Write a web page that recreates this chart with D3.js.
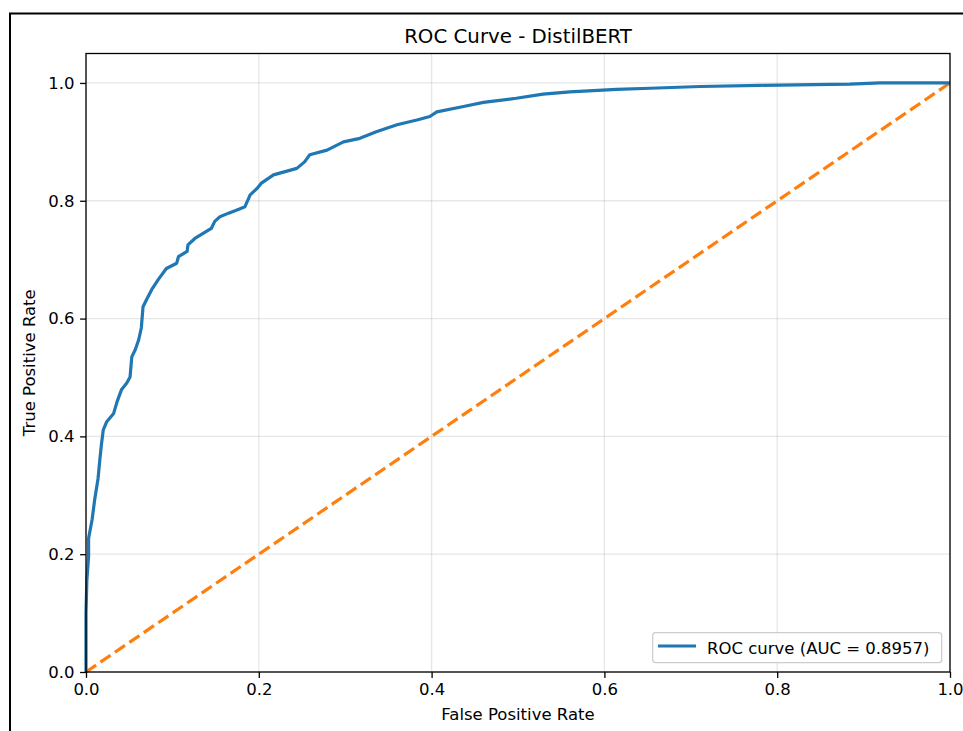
<!DOCTYPE html>
<html>
<head>
<meta charset="utf-8">
<script src="https://cdn.jsdelivr.net/npm/d3@7/dist/d3.min.js"></script>
<style>
  html, body { margin: 0; padding: 0; background: #fff; }
  svg { display: block; }
  text { font-family: "DejaVu Sans", sans-serif; fill: #000; }
</style>
</head>
<body>
<svg id="chart" width="963" height="731"></svg>
<script>
// ROC curve points (False Positive Rate, True Positive Rate)
const fpr = [0, 0, 0.001, 0.003, 0.003, 0.007, 0.010, 0.014, 0.016, 0.018, 0.020, 0.024, 0.032, 0.036, 0.041, 0.047, 0.051, 0.053, 0.057, 0.061, 0.064, 0.066, 0.070, 0.076, 0.084, 0.093, 0.105, 0.107, 0.117, 0.118, 0.126, 0.136, 0.145, 0.149, 0.155, 0.165, 0.174, 0.184, 0.190, 0.198, 0.203, 0.217, 0.244, 0.253, 0.259, 0.279, 0.298, 0.317, 0.336, 0.360, 0.383, 0.398, 0.406, 0.437, 0.460, 0.498, 0.529, 0.560, 0.614, 0.653, 0.711, 0.780, 0.884, 0.919, 1.0];
const tpr = [0, 0.100, 0.156, 0.196, 0.227, 0.258, 0.292, 0.329, 0.360, 0.388, 0.411, 0.425, 0.439, 0.459, 0.479, 0.490, 0.501, 0.535, 0.547, 0.564, 0.584, 0.620, 0.632, 0.649, 0.667, 0.685, 0.694, 0.705, 0.714, 0.725, 0.736, 0.745, 0.753, 0.765, 0.773, 0.779, 0.784, 0.790, 0.810, 0.821, 0.830, 0.844, 0.855, 0.866, 0.878, 0.886, 0.900, 0.906, 0.917, 0.929, 0.937, 0.943, 0.951, 0.960, 0.967, 0.974, 0.981, 0.985, 0.989, 0.991, 0.994, 0.996, 0.998, 1.0, 1.0];
const chanceX = [0, 1];
const chanceY = [0, 1];
const xTicks = [0.0, 0.2, 0.4, 0.6, 0.8, 1.0];
const yTicks = [0.0, 0.2, 0.4, 0.6, 0.8, 1.0];
const aucLabel = "ROC curve (AUC = 0.8957)";
const titleText = "ROC Curve - DistilBERT";
const xLabel = "False Positive Rate";
const yLabel = "True Positive Rate";

const svg = d3.select("#chart");

// outer frame
svg.append("rect")
  .attr("x", 10).attr("y", 13.5).attr("width", 1000).attr("height", 800)
  .attr("fill", "none").attr("stroke", "#000").attr("stroke-width", 2);

const L = 86, R = 950, T = 53.5, B = 672;
const x = d3.scaleLinear().domain([0, 1]).range([L, R]);
const y = d3.scaleLinear().domain([0, 1.05]).range([B, T]);

// grid
const g = svg.append("g");
g.selectAll(".gx").data(xTicks).join("line")
  .attr("x1", d => x(d)).attr("x2", d => x(d)).attr("y1", T).attr("y2", B)
  .attr("stroke", "#b0b0b0").attr("stroke-opacity", 0.3).attr("stroke-width", 1.3);
g.selectAll(".gy").data(yTicks).join("line")
  .attr("y1", d => y(d)).attr("y2", d => y(d)).attr("x1", L).attr("x2", R)
  .attr("stroke", "#b0b0b0").attr("stroke-opacity", 0.3).attr("stroke-width", 1.3);

const line = d3.line().x(d => x(d[0])).y(d => y(d[1]));

svg.append("path")
  .datum(chanceX.map((v, i) => [v, chanceY[i]]))
  .attr("d", line).attr("fill", "none")
  .attr("stroke", "#ff7f0e").attr("stroke-width", 3.2)
  .attr("stroke-dasharray", "12.2,5.3");

svg.append("path")
  .datum(fpr.map((v, i) => [v, tpr[i]]))
  .attr("d", line).attr("fill", "none")
  .attr("stroke", "#1f77b4").attr("stroke-width", 3.2)
  .attr("stroke-linejoin", "round").attr("stroke-linecap", "butt");

// axes
const fmt = d3.format(".1f");
const xAxis = svg.append("g").attr("transform", `translate(0,${B})`)
  .call(d3.axisBottom(x).tickValues(xTicks).tickFormat(fmt).tickSize(5.9).tickPadding(5.5));
const yAxis = svg.append("g").attr("transform", `translate(${L},0)`)
  .call(d3.axisLeft(y).tickValues(yTicks).tickFormat(fmt).tickSize(5.9).tickPadding(5.5));
[xAxis, yAxis].forEach(a => {
  a.select(".domain").remove();
  a.selectAll(".tick line").attr("stroke", "#000").attr("stroke-width", 1.3);
  a.selectAll(".tick text").attr("font-family", "DejaVu Sans, sans-serif").attr("font-size", 16.5).attr("fill", "#222");
});

// spines
svg.append("rect").attr("x", L).attr("y", T).attr("width", R - L).attr("height", B - T)
  .attr("fill", "none").attr("stroke", "#000").attr("stroke-width", 1.3);

// title and labels
svg.append("text").attr("x", (L + R) / 2).attr("y", 42.5).attr("text-anchor", "middle")
  .attr("font-size", 19.8).attr("fill", "#222").text(titleText);
svg.append("text").attr("x", (L + R) / 2).attr("y", 720).attr("text-anchor", "middle")
  .attr("font-size", 16.5).attr("fill", "#222").text(xLabel);
svg.append("text").attr("transform", `translate(35,${(T + B) / 2}) rotate(-90)`)
  .attr("text-anchor", "middle").attr("font-size", 16.5).attr("fill", "#222").text(yLabel);

// legend
const lg = svg.append("g");
lg.append("rect").attr("x", 652.7).attr("y", 632.7).attr("width", 289).attr("height", 30)
  .attr("rx", 3).attr("fill", "#fff").attr("fill-opacity", 0.8)
  .attr("stroke", "#cccccc").attr("stroke-width", 1.2);
lg.append("line").attr("x1", 658).attr("x2", 696).attr("y1", 646).attr("y2", 646)
  .attr("stroke", "#1f77b4").attr("stroke-width", 3.2);
lg.append("text").attr("x", 707).attr("y", 653.5).attr("font-size", 16.5).attr("fill", "#222").text(aucLabel);
</script>
</body>
</html>
